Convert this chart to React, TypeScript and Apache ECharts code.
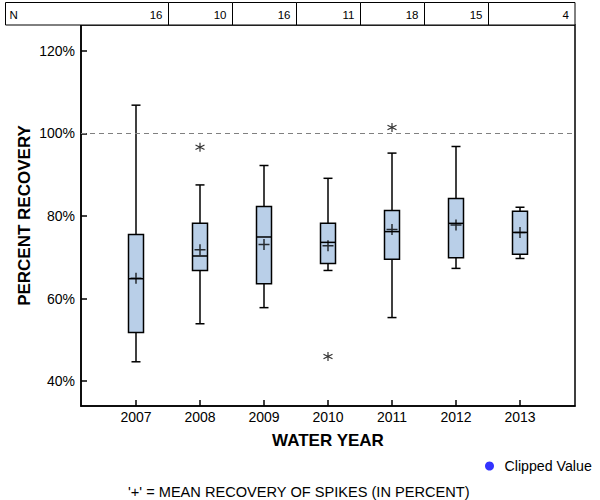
import React, { useEffect, useRef } from 'react';
import * as echarts from 'echarts';

const years = [2007, 2008, 2009, 2010, 2011, 2012, 2013];
const counts = [16, 10, 16, 11, 18, 15, 4];
const whiskerLow = [44.7, 53.9, 57.8, 66.8, 55.4, 67.3, 69.7];
const q1 = [51.8, 66.8, 63.6, 68.5, 69.5, 69.9, 70.7];
const median = [64.8, 70.3, 74.9, 73.6, 76.2, 78.2, 76.0];
const q3 = [75.5, 78.2, 82.3, 78.2, 81.3, 84.2, 81.1];
const whiskerHigh = [106.8, 87.5, 92.2, 89.1, 95.2, 96.8, 82.1];
const means = [64.9, 71.8, 73.1, 72.8, 76.7, 77.8, 76.0];
const outlierYears = [2008, 2010, 2011];
const outlierValues = [96.6, 46.0, 101.4];
const yTicks = [40, 60, 80, 100, 120];
const referenceValue = 100;

const FONT = '"Liberation Sans", Arial, Helvetica, sans-serif';

export default function App() {
  const ref = useRef<HTMLDivElement>(null);
  useEffect(() => {
    if (!ref.current) return;
    const chart = echarts.init(ref.current, undefined, { renderer: 'svg' });
    const boxData = years.map((y, i) => [y, whiskerLow[i], q1[i], median[i], q3[i], whiskerHigh[i]]);
    const option: any = {
      animation: false,
      textStyle: { fontFamily: FONT },
      grid: { left: 81, right: 25, top: 25, bottom: 94, show: true, borderColor: '#000', borderWidth: 1.5 },
      legend: {
        data: ['Clipped Value'],
        left: 485,
        top: 459,
        padding: 0,
        itemWidth: 20,
        itemHeight: 9,
        icon: 'circle',
        selectedMode: false,
        textStyle: { fontSize: 14.2, color: '#000', fontFamily: FONT },
      },
      xAxis: {
        type: 'value',
        min: 2006.140625,
        max: 2013.859375,
        axisLine: { show: true, onZero: false, lineStyle: { color: '#000', width: 1.5 } },
        axisTick: { show: true, inside: true, length: 6, customValues: years, lineStyle: { color: '#000', width: 1.5 } },
        axisLabel: { customValues: years, color: '#000', fontSize: 14, margin: 4, formatter: (v: number) => String(v), fontFamily: FONT },
        splitLine: { show: false },
        name: 'WATER YEAR',
        nameLocation: 'middle',
        nameGap: 26,
        nameMoveOverlap: false,
        nameTextStyle: { fontSize: 17, fontWeight: 'bold', color: '#000', fontFamily: FONT },
      },
      yAxis: {
        type: 'value',
        min: 34,
        max: 126.2,
        axisLine: { show: true, onZero: false, lineStyle: { color: '#000', width: 1.5 } },
        axisTick: { show: true, inside: true, length: 6, customValues: yTicks, lineStyle: { color: '#000', width: 1.5 } },
        axisLabel: { customValues: yTicks, color: '#000', fontSize: 14, margin: 6, formatter: '{value}%', fontFamily: FONT },
        splitLine: { show: false },
        name: 'PERCENT RECOVERY',
        nameLocation: 'middle',
        nameGap: 48,
        nameMoveOverlap: false,
        nameTextStyle: { fontSize: 17, fontWeight: 'bold', color: '#000', fontFamily: FONT },
      },
      graphic: [
        {
          type: 'text',
          left: 128,
          top: 484,
          style: { text: "'+' = MEAN RECOVERY OF SPIKES (IN PERCENT)", font: `14.6px ${FONT}`, fill: '#000' },
        },
      ],
      series: [
        {
          type: 'custom',
          name: 'N',
          silent: true,
          data: years.map((y, i) => [y, counts[i]]),
          encode: { x: 0, y: 1 },
          renderItem: (params: any, api: any) => {
            const i = params.dataIndex;
            const cs = params.coordSys;
            const yr = api.value(0);
            const left = i === 0 ? 5.5 : Math.round(api.coord([yr - 0.5, 60])[0]) + 0.5;
            const right = i === years.length - 1 ? cs.x + cs.width : Math.round(api.coord([yr + 0.5, 60])[0]) + 0.5;
            const top = 2.5;
            const bottom = cs.y;
            const children: any[] = [
              { type: 'rect', shape: { x: left, y: top, width: right - left, height: bottom - top }, style: { fill: '#fff', stroke: '#000', lineWidth: 1 } },
              { type: 'text', x: right - 6, y: (top + bottom) / 2 + 1, style: { text: String(api.value(1)), font: `11.5px ${FONT}`, fill: '#000', align: 'right', verticalAlign: 'middle' } },
            ];
            if (i === 0) {
              children.push({ type: 'text', x: left + 4, y: (top + bottom) / 2 + 1, style: { text: 'N', font: `11.5px ${FONT}`, fill: '#000', align: 'left', verticalAlign: 'middle' } });
            }
            return { type: 'group', children };
          },
        },
        {
          type: 'custom',
          name: 'Recovery',
          data: boxData,
          encode: { x: 0, y: [1, 2, 3, 4, 5] },
          renderItem: (params: any, api: any) => {
            const x = api.value(0);
            const lo = api.coord([x, api.value(1)]);
            const b1 = api.coord([x, api.value(2)]);
            const md = api.coord([x, api.value(3)]);
            const b3 = api.coord([x, api.value(4)]);
            const hi = api.coord([x, api.value(5)]);
            const cx = Math.round(lo[0]);
            const bw = 15;
            const cw = 9;
            const st = { stroke: '#000', lineWidth: 1.5, fill: 'none' };
            return {
              type: 'group',
              children: [
                { type: 'line', shape: { x1: cx, y1: hi[1], x2: cx, y2: b3[1] }, style: st },
                { type: 'line', shape: { x1: cx, y1: b1[1], x2: cx, y2: lo[1] }, style: st },
                { type: 'line', shape: { x1: cx - cw / 2, y1: hi[1], x2: cx + cw / 2, y2: hi[1] }, style: st },
                { type: 'line', shape: { x1: cx - cw / 2, y1: lo[1], x2: cx + cw / 2, y2: lo[1] }, style: st },
                { type: 'rect', shape: { x: cx - bw / 2, y: b3[1], width: bw, height: b1[1] - b3[1] }, style: { fill: '#b9cfe8', stroke: '#000', lineWidth: 1.5 } },
                { type: 'line', shape: { x1: cx - bw / 2, y1: md[1], x2: cx + bw / 2, y2: md[1] }, style: st },
              ],
            };
          },
          markLine: {
            silent: true,
            symbol: 'none',
            label: { show: false },
            lineStyle: { color: '#808080', type: [5, 4], width: 1 },
            data: [{ yAxis: referenceValue }],
          },
        },
        {
          type: 'scatter',
          name: 'Mean',
          data: years.map((y, i) => [y, means[i]]),
          symbol: 'path://M5 0V10M0 5H10',
          symbolSize: 11,
          itemStyle: { color: 'none', borderColor: '#000', borderWidth: 1.5 },
          silent: true,
          z: 5,
        },
        {
          type: 'scatter',
          name: 'Outlier',
          data: outlierYears.map((y, i) => [y, outlierValues[i]]),
          symbol: 'path://M5 0V10M0.67 2.5L9.33 7.5M0.67 7.5L9.33 2.5',
          symbolSize: 9,
          itemStyle: { color: 'none', borderColor: '#000', borderWidth: 1.2 },
          silent: true,
          z: 5,
        },
        {
          type: 'scatter',
          name: 'Clipped Value',
          data: [],
          itemStyle: { color: '#0000ff' },
        },
      ],
    };
    chart.setOption(option);
    return () => chart.dispose();
  }, []);
  return (
    <div style={{ position: 'fixed', left: 0, top: 0, width: 600, height: 500, background: '#fff' }}>
      <div ref={ref} style={{ width: 600, height: 500 }} />
    </div>
  );
}
